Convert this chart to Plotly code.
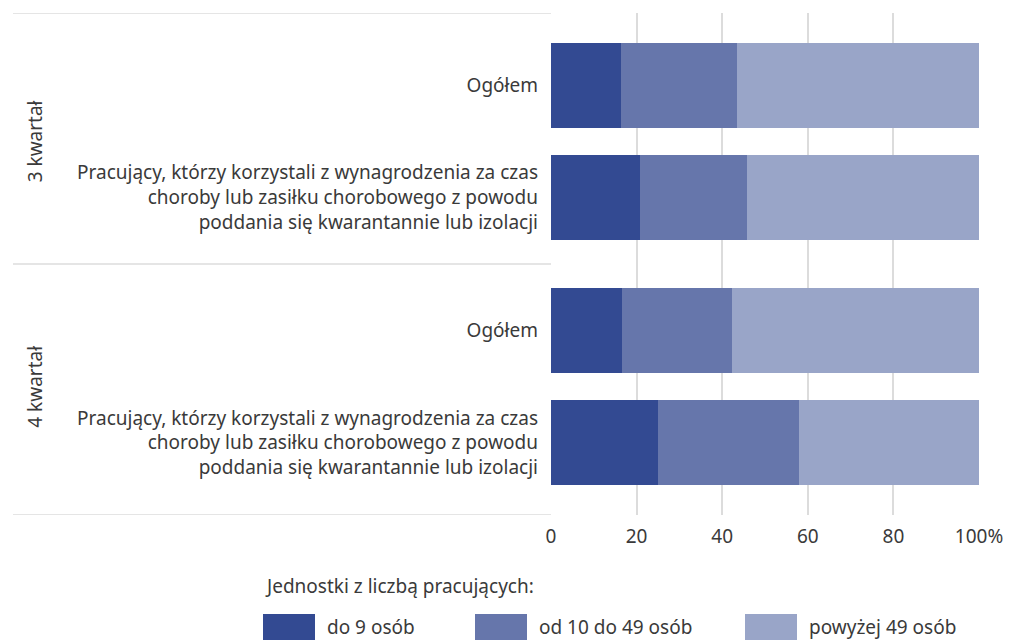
import plotly.graph_objects as go

# Data (shares in %)
groups = ["3 kwartał", "4 kwartał"]
items = ["Ogółem",
         "Pracujący, którzy korzystali z wynagrodzenia za czas<br>"
         "choroby lub zasiłku chorobowego z powodu<br>"
         "poddania się kwarantannie lub izolacji"]
series_names = ["do 9 osób", "od 10 do 49 osób", "powyżej 49 osób"]
do_9 = [16.4, 20.8, 16.5, 24.9]
od_10_do_49 = [27.0, 24.9, 25.9, 33.0]
powyzej_49 = [56.6, 54.3, 57.6, 42.1]
x_ticks = [0, 20, 40, 60, 80, 100]
x_tick_labels = ["0", "20", "40", "60", "80", "100%"]
legend_title = "Jednostki z liczbą pracujących:"

colors = ["#334a92", "#6676ab", "#99a5c8"]
font = "Noto Sans"
fsize = 19
text_color = "#3a3a3a"
grid_color = "#dcdcdc"

# Layout of the rows: extra gap between quarter groups
group_gap = 0.19
positions, labels, group_of = [], [], []
for g, grp in enumerate(groups):
    for i, it in enumerate(items):
        positions.append(g * (len(items) + group_gap) + i)
        labels.append(it)
        group_of.append(g)

pad = 0.645
y_min = positions[0] - pad
y_max = positions[-1] + pad

# page body has an 8px margin, so the figure sits 8px right/down
OFF = 8
W, H = 1006, 635
plot_l, plot_r, plot_t, plot_b = 551, 979, 13, 515
L = plot_l - OFF
R = W - (plot_r - OFF)
T = plot_t - OFF
B = H - (plot_b - OFF)
pw, ph = plot_r - plot_l, plot_b - plot_t


def px_x(px):
    return (px - plot_l) / pw


def px_y(py):
    return (plot_b - py) / ph


fig = go.Figure()
for name, vals, col in zip(series_names, [do_9, od_10_do_49, powyzej_49], colors):
    fig.add_trace(go.Bar(y=positions, x=vals, name=name, orientation="h",
                         marker=dict(color=col, line=dict(width=0)),
                         width=0.76, showlegend=False))

# Divider lines in the category area
seps = [y_min, (positions[len(items) - 1] + positions[len(items)]) / 2, y_max]
for s in seps:
    fig.add_shape(type="line", xref="paper", yref="y", x0=px_x(13), x1=0,
                  y0=s, y1=s, line=dict(color=grid_color, width=1.5))

# Group labels
for g, grp in enumerate(groups):
    ys = [p for p, gg in zip(positions, group_of) if gg == g]
    fig.add_annotation(text=grp, xref="paper", yref="y", x=px_x(20),
                       y=sum(ys) / len(ys), textangle=-90, showarrow=False,
                       font=dict(size=fsize, color=text_color, family=font))

# Legend drawn by hand to get the large swatches
fig.add_annotation(text=legend_title, xref="paper", yref="paper",
                   x=px_x(263), y=px_y(586), xanchor="left", yanchor="middle",
                   showarrow=False, font=dict(size=fsize, color=text_color, family=font))
swatch_x = [263, 475, 745]
for name, col, sx in zip(series_names, colors, swatch_x):
    fig.add_shape(type="rect", xref="paper", yref="paper",
                  x0=px_x(sx), x1=px_x(sx + 52), y0=px_y(614), y1=px_y(640),
                  fillcolor=col, line=dict(width=0))
    fig.add_annotation(text=name, xref="paper", yref="paper",
                       x=px_x(sx + 62), y=px_y(627), xanchor="left", yanchor="middle",
                       showarrow=False, font=dict(size=fsize, color=text_color, family=font))

fig.update_layout(
    width=W, height=H, barmode="stack",
    margin=dict(l=L, r=R, t=T, b=B),
    plot_bgcolor="white", paper_bgcolor="white",
    font=dict(family=font, size=fsize, color=text_color),
    xaxis=dict(range=[0, 100], tickvals=x_ticks, ticktext=x_tick_labels,
               showgrid=True, gridcolor=grid_color, gridwidth=1.5,
               zeroline=False, showline=False, ticks="", ticklabelstandoff=8,
               fixedrange=True),
    yaxis=dict(range=[y_max, y_min], tickvals=positions, ticktext=labels,
               showgrid=False, zeroline=False, showline=False, ticks="",
               ticklabelstandoff=12, fixedrange=True),
)

fig.write_html("out.html")
